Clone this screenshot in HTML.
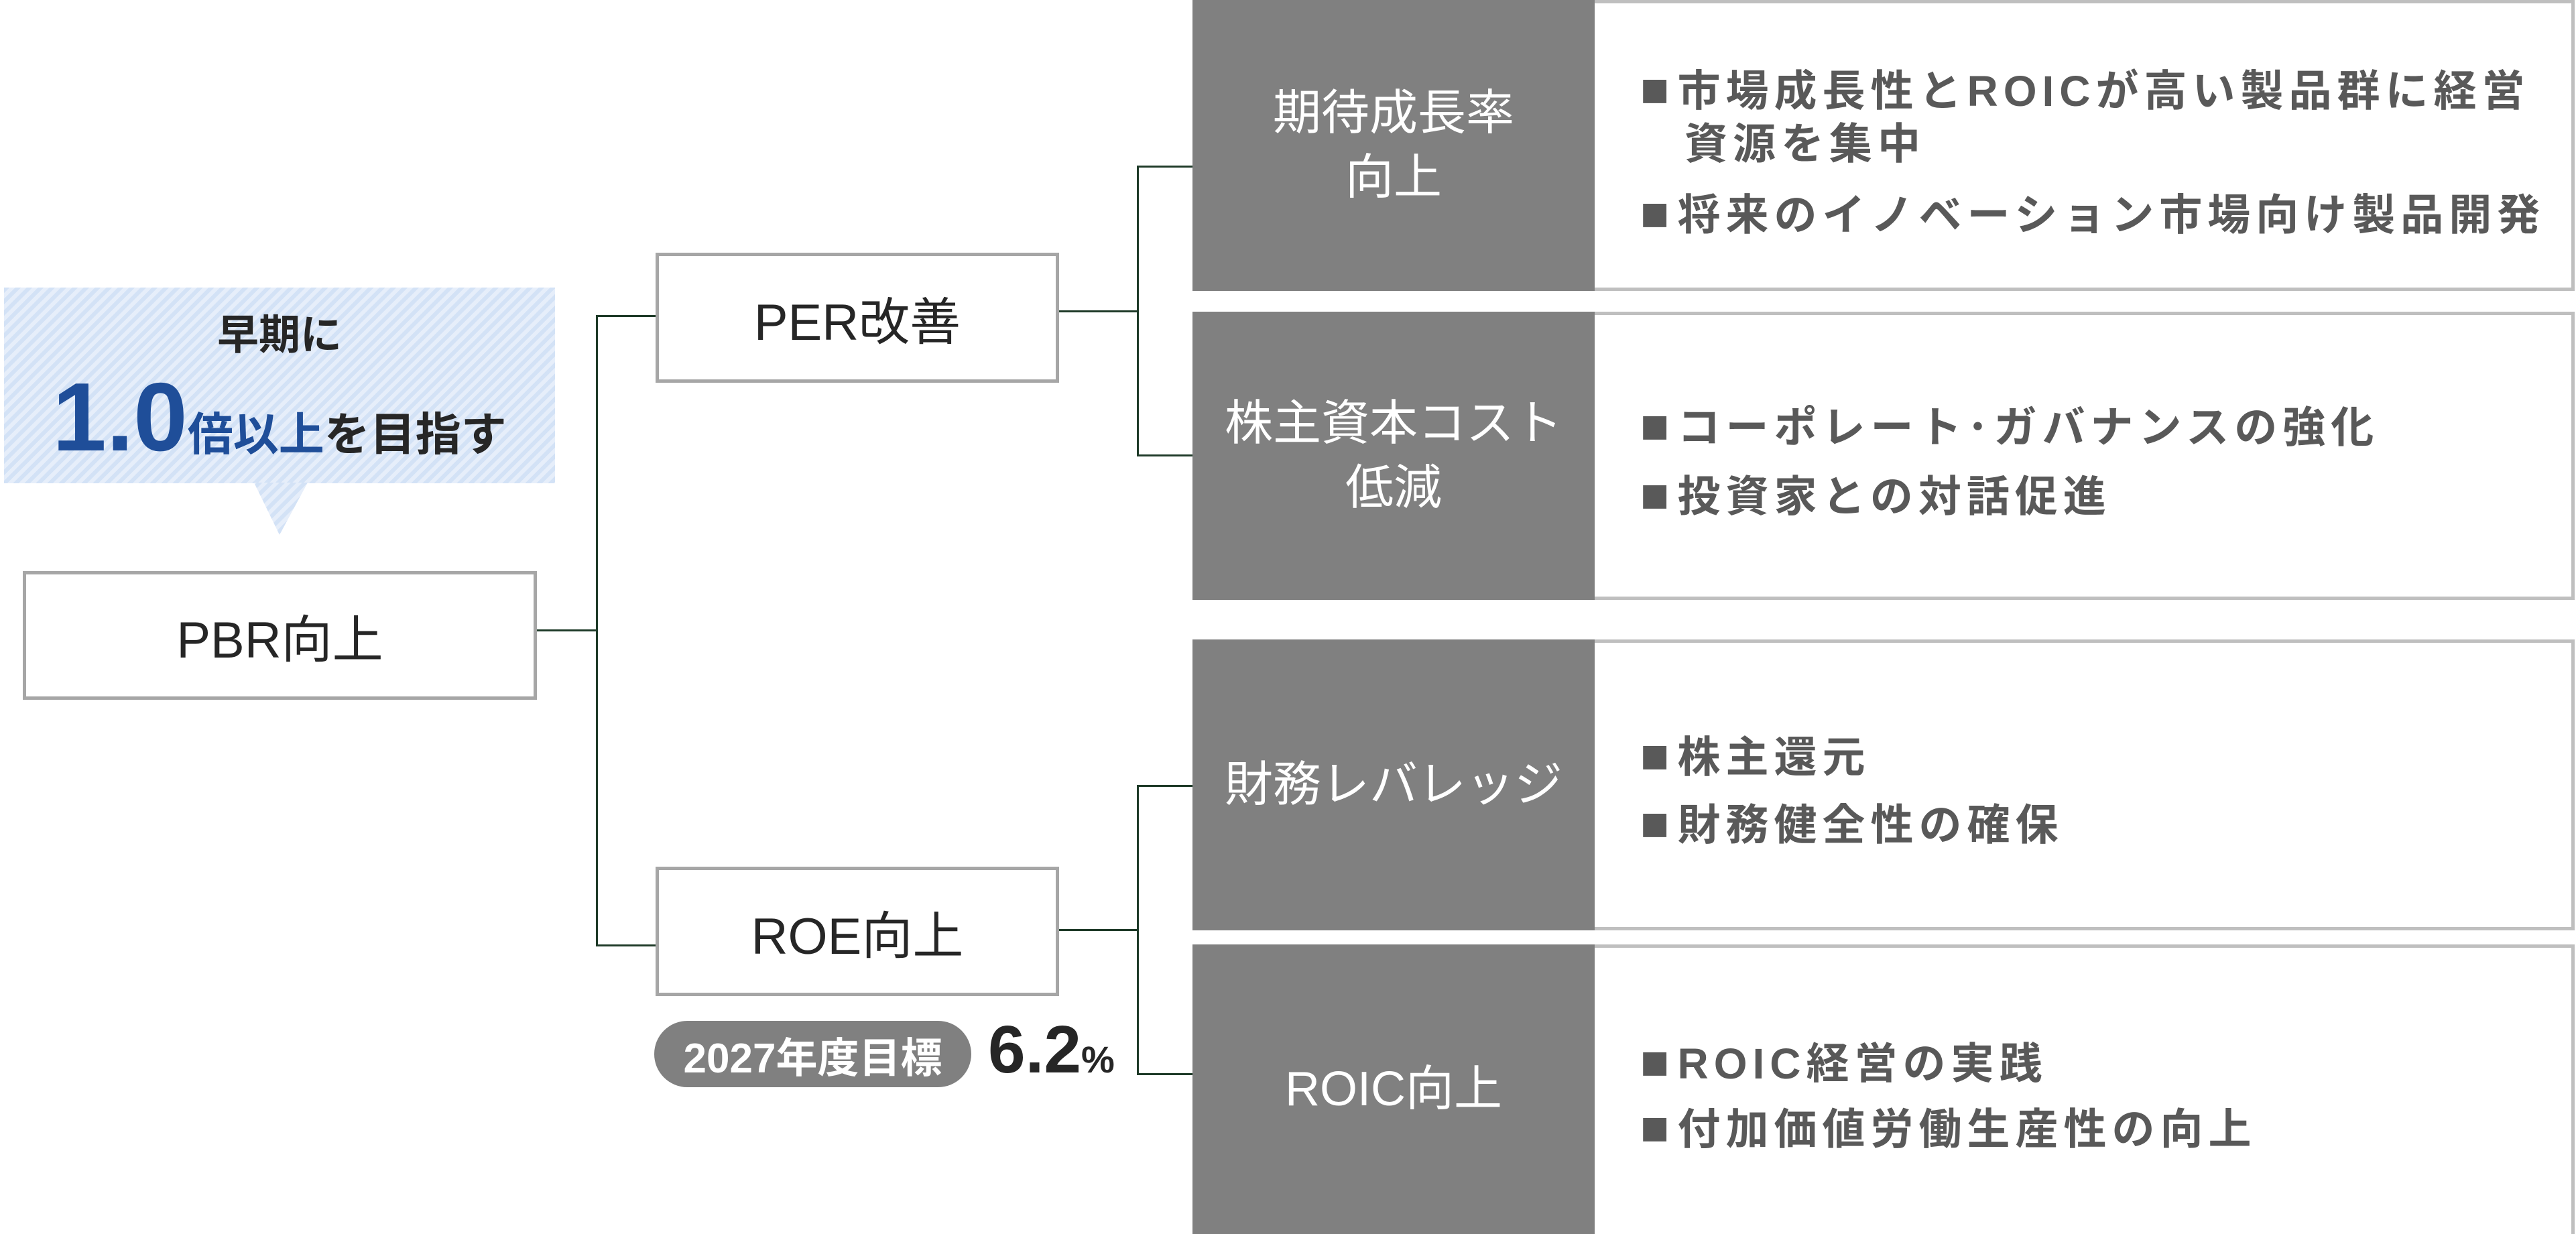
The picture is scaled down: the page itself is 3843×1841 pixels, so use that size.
<!DOCTYPE html>
<html><head><meta charset="utf-8">
<style>
*{margin:0;padding:0;box-sizing:border-box}
body{width:3843px;height:1841px;background:#fff;position:relative;overflow:hidden;font-family:"Liberation Sans","Noto Sans CJK JP",sans-serif}
.abs{position:absolute}
.box{position:absolute;border:5px solid #a6a6a6;background:#fff;display:flex;align-items:center;justify-content:center;font-size:76px;color:#262626}
.dk{position:absolute;left:1779px;width:600px;background:#808080;color:#fff;font-size:72px;display:flex;align-items:center;justify-content:center;text-align:center;line-height:96px}
.wt{position:absolute;left:2379px;width:1462px;border:5px solid #bfbfbf;border-left:none;background:#fff}
.b{position:absolute;left:2447px;font-weight:bold;color:#595959;font-size:64px;letter-spacing:8px;white-space:nowrap;line-height:1}
.b i{font-style:normal;font-size:72px;margin-right:4px}
.h{position:absolute;background:#1e3a28}
</style></head><body>
<div class="abs" style="left:6px;top:429px;width:822px;height:292px;background:repeating-linear-gradient(135deg,#d3e2f6 0 6px,#e6eefa 6px 12px)"></div>
<svg class="abs" style="left:0;top:0" width="900" height="900"><defs><pattern id="p" width="12" height="12" patternUnits="userSpaceOnUse" patternTransform="rotate(45)"><rect width="6" height="12" fill="#d3e2f6"/><rect x="6" width="6" height="12" fill="#e6eefa"/></pattern></defs><polygon points="379,720 459,720 417,798" fill="url(#p)"/></svg>
<div class="abs" style="left:6px;top:470px;width:822px;text-align:center;font-weight:bold;font-size:62px;color:#262626;line-height:1">早期に</div>
<div class="abs" style="left:6px;top:550px;width:822px;text-align:center;font-weight:bold;color:#262626;line-height:1;white-space:nowrap"><span style="font-size:145px;color:#1f4e99">1.0</span><span style="font-size:68px;color:#1f4e99">倍以上</span><span style="font-size:68px">を目指す</span></div>
<div class="box" style="left:34px;top:852px;width:767px;height:192px">PBR向上</div>
<div class="box" style="left:978px;top:377px;width:602px;height:194px">PER改善</div>
<div class="box" style="left:978px;top:1293px;width:602px;height:193px">ROE向上</div>
<div class="h" style="left:801px;top:939px;width:90px;height:3px"></div>
<div class="h" style="left:889px;top:470px;width:3px;height:942px"></div>
<div class="h" style="left:889px;top:470px;width:89px;height:3px"></div>
<div class="h" style="left:889px;top:1409px;width:89px;height:3px"></div>
<div class="h" style="left:1580px;top:463px;width:118px;height:3px"></div>
<div class="h" style="left:1696px;top:247px;width:3px;height:433px"></div>
<div class="h" style="left:1696px;top:247px;width:83px;height:3px"></div>
<div class="h" style="left:1696px;top:678px;width:83px;height:3px"></div>
<div class="h" style="left:1580px;top:1386px;width:118px;height:3px"></div>
<div class="h" style="left:1696px;top:1171px;width:3px;height:432px"></div>
<div class="h" style="left:1696px;top:1171px;width:83px;height:3px"></div>
<div class="h" style="left:1696px;top:1601px;width:83px;height:3px"></div>
<div class="abs" style="left:976px;top:1523px;width:473px;height:99px;border-radius:50px;background:#808080;color:#fff;font-weight:bold;font-size:62px;display:flex;align-items:center;justify-content:center;white-space:nowrap">2027年度目標</div>
<div class="abs" style="left:1474px;top:1516px;font-weight:bold;color:#262626;white-space:nowrap;line-height:1"><span style="font-size:100px">6.2</span><span style="font-size:56px">%</span></div>
<div class="dk" style="top:0;height:434px">期待成長率<br>向上</div>
<div class="wt" style="top:0;height:434px"></div>
<div class="dk" style="top:465px;height:430px">株主資本コスト<br>低減</div>
<div class="wt" style="top:465px;height:430px"></div>
<div class="dk" style="top:954px;height:434px">財務レバレッジ</div>
<div class="wt" style="top:954px;height:434px"></div>
<div class="dk" style="top:1409px;height:432px">ROIC向上</div>
<div class="wt" style="top:1409px;height:432px;border-bottom:none"></div>
<div class="b" style="top:98px"><i>■</i>市場成長性とROICが高い製品群に経営</div>
<div class="b" style="top:183px;left:2513px">資源を集中</div>
<div class="b" style="top:283px"><i>■</i>将来のイノベーション市場向け製品開発</div>
<div class="b" style="top:600px"><i>■</i>コーポレート･ガバナンスの強化</div>
<div class="b" style="top:703px"><i>■</i>投資家との対話促進</div>
<div class="b" style="top:1092px"><i>■</i>株主還元</div>
<div class="b" style="top:1193px"><i>■</i>財務健全性の確保</div>
<div class="b" style="top:1549px"><i>■</i>ROIC経営の実践</div>
<div class="b" style="top:1647px"><i>■</i>付加価値労働生産性の向上</div>
</body></html>
